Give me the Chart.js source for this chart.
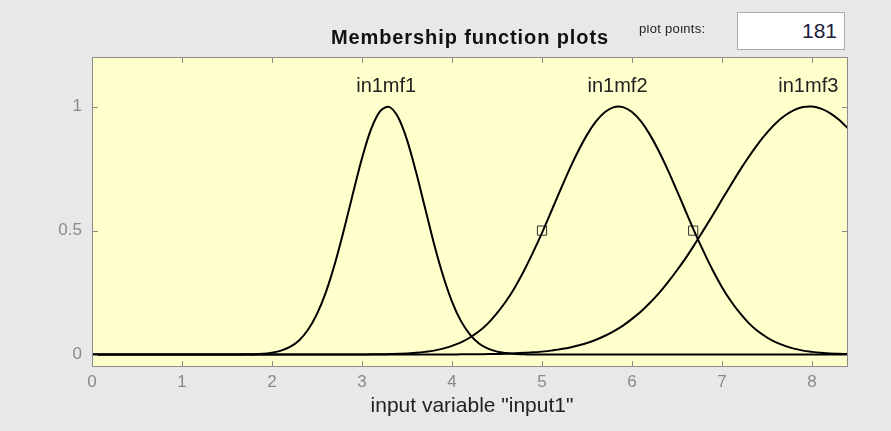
<!DOCTYPE html>
<html>
<head>
<meta charset="utf-8">
<script src="https://cdn.jsdelivr.net/npm/chart.js@4.4.1/dist/chart.umd.min.js"></script>
<style>
  html, body { margin: 0; padding: 0; }
  body { width: 891px; height: 431px; background: #e8e8e8; position: relative; overflow: hidden;
         font-family: "Liberation Sans", Arial, sans-serif; }
  #wrap { position: absolute; left: 0; top: 0; width: 891px; height: 431px; }
  .titulo { position: absolute; left: 0; width: 940px; top: 26px; text-align: center;
            font-weight: bold; font-size: 20px; letter-spacing: 0.9px; color: #111; }
  .ejeX { position: absolute; left: 0; width: 944px; top: 393px; text-align: center;
          font-size: 21px; color: #222; }
  .pp { position: absolute; left: 637px; top: 25px; width: 90px; height: 14px; overflow: hidden; }
  .pp span { position: absolute; left: 2px; top: -4px; font-size: 13px; letter-spacing: 0.3px; color: #222; white-space: nowrap; }
  .caja { position: absolute; left: 737px; top: 12px; width: 108px; height: 38px; background: #fff;
          border: 1px solid #ababab; box-sizing: border-box; text-align: right; padding-right: 7px;
          font-size: 21px; line-height: 36px; color: #1c1c3a; }
</style>
</head>
<body>
<div id="wrap"><canvas id="graficoMF" width="891" height="431"></canvas></div>
<div class="titulo">Membership function plots</div>
<div class="pp"><span>plot points:</span></div>
<div class="caja">181</div>
<div class="ejeX">input variable "input1"</div>
<script>
// datos
const xs = [0,0.1,0.2,0.3,0.4,0.5,0.6,0.7,0.8,0.9,1,1.1,1.2,1.3,1.4,1.5,1.6,1.7,1.8,1.9,
  2,2.1,2.2,2.3,2.4,2.5,2.6,2.7,2.8,2.9,3,3.1,3.2,3.3,3.4,3.5,3.6,3.7,3.8,3.9,
  4,4.1,4.2,4.3,4.4,4.5,4.6,4.7,4.8,4.9,5,5.1,5.2,5.3,5.4,5.5,5.6,5.7,5.8,5.9,
  6,6.1,6.2,6.3,6.4,6.5,6.6,6.7,6.8,6.9,7,7.1,7.2,7.3,7.4,7.5,7.6,7.7,7.8,7.9,
  8,8.1,8.2,8.3,8.4];

const mf1 = [0,0,0,0,0,0,0,0,0,0,0,0,0,0,0,0,0,0.001,0.001,0.003,
  0.008,0.016,0.031,0.057,0.100,0.164,0.253,0.368,0.504,0.651,0.792,0.908,0.981,0.999,0.958,0.866,0.737,0.592,0.447,0.319,
  0.214,0.135,0.081,0.045,0.024,0.012,0.006,0.002,0.001,0,0,0,0,0,0,0,0,0,0,0,
  0,0,0,0,0,0,0,0,0,0,0,0,0,0,0,0,0,0,0,0,
  0,0,0,0,0];

const mf2 = [0,0,0,0,0,0,0,0,0,0,0,0,0,0,0,0,0,0,0,0,
  0,0,0,0,0,0,0,0,0,0,0,0.001,0.001,0.002,0.003,0.004,0.007,0.011,0.016,0.024,
  0.035,0.049,0.069,0.094,0.126,0.167,0.215,0.272,0.338,0.412,0.491,0.575,0.660,0.743,0.819,0.886,0.940,0.978,0.998,0.998,
  0.978,0.940,0.886,0.819,0.743,0.660,0.575,0.491,0.412,0.338,0.272,0.215,0.167,0.126,0.094,0.069,0.049,0.035,0.024,0.016,
  0.011,0.007,0.004,0.003,0.002];

const mf3 = [0,0,0,0,0,0,0,0,0,0,0,0,0,0,0,0,0,0,0,0,
  0,0,0,0,0,0,0,0,0,0,0,0,0,0,0,0,0,0,0,0,
  0,0.001,0.001,0.001,0.002,0.002,0.003,0.005,0.007,0.009,0.012,0.016,0.022,0.028,0.037,0.047,0.060,0.076,0.095,0.117,
  0.144,0.174,0.209,0.248,0.292,0.340,0.391,0.447,0.505,0.564,0.625,0.685,0.744,0.799,0.850,0.895,0.934,0.964,0.986,0.998,
  1.000,0.992,0.974,0.947,0.912];

const mfNombres = ["in1mf1", "in1mf2", "in1mf3"];
const mfPicos = [3.28, 5.85, 7.97];
const marcasX = [5.0, 6.68];
const marcasY = [0.5, 0.5];
const ticksX = [0, 1, 2, 3, 4, 5, 6, 7, 8];
const ticksY = [0, 0.5, 1];

const FUENTE_TICKS = '"Liberation Sans", Arial';

const aPuntos = (ys) => xs.map((x, i) => ({ x: x, y: ys[i] }));

// --- fondo amarillo, marco y marcas internas ---
const marcoPlugin = {
  id: 'marco',
  beforeDraw(chart) {
    const { ctx, chartArea: a } = chart;
    ctx.save();
    ctx.fillStyle = '#ffffcc';
    ctx.fillRect(a.left, a.top, a.right - a.left, a.bottom - a.top);
    ctx.restore();
  },
  afterDraw(chart) {
    const { ctx, chartArea: a, scales } = chart;
    ctx.save();
    ctx.strokeStyle = '#8a8a8a';
    ctx.lineWidth = 1;
    ctx.strokeRect(a.left + 0.5, a.top + 0.5, a.right - a.left - 1, a.bottom - a.top - 1);
    ctx.beginPath();
    ticksX.forEach(v => {
      const px = Math.round(scales.x.getPixelForValue(v)) + 0.5;
      ctx.moveTo(px, a.bottom); ctx.lineTo(px, a.bottom - 6);
      ctx.moveTo(px, a.top); ctx.lineTo(px, a.top + 6);
    });
    ticksY.forEach(v => {
      const py = Math.round(scales.y.getPixelForValue(v)) + 0.5;
      ctx.moveTo(a.left, py); ctx.lineTo(a.left + 6, py);
      ctx.moveTo(a.right, py); ctx.lineTo(a.right - 6, py);
    });
    ctx.stroke();

    // etiquetas de las funciones
    ctx.fillStyle = '#222';
    ctx.font = '20px "Liberation Sans", Arial, sans-serif';
    ctx.textAlign = 'center';
    ctx.textBaseline = 'alphabetic';
    mfNombres.forEach((n, i) => {
      ctx.fillText(n, scales.x.getPixelForValue(mfPicos[i]) - 1, scales.y.getPixelForValue(1.06));
    });
    ctx.restore();
  }
};

const linea = (ys) => ({
  data: aPuntos(ys),
  borderColor: '#000',
  borderWidth: 2,
  pointRadius: 0,
  tension: 0.3,
  fill: false
});

new Chart(document.getElementById('graficoMF').getContext('2d'), {
  type: 'line',
  data: {
    datasets: [
      linea(mf1),
      linea(mf2),
      linea(mf3),
      {
        type: 'scatter',
        data: marcasX.map((x, i) => ({ x: x, y: marcasY[i] })),
        pointStyle: 'rect',
        pointRadius: 6.5,
        borderColor: '#333',
        borderWidth: 1,
        backgroundColor: 'rgba(0,0,0,0)',
        showLine: false
      }
    ]
  },
  options: {
    responsive: false,
    animation: false,
    layout: { padding: { left: 0, right: 43, top: 57, bottom: 0 } },
    plugins: { legend: { display: false }, tooltip: { enabled: false } },
    scales: {
      x: {
        type: 'linear', min: 0, max: 8.4,
        afterBuildTicks: s => { s.ticks = ticksX.map(v => ({ value: v })); },
        afterFit: s => { s.height = 64; },
        grid: { display: false },
        border: { display: false },
        ticks: { color: '#8a8a8a', padding: -3, font: { size: 17, family: FUENTE_TICKS } }
      },
      y: {
        type: 'linear', min: -0.05, max: 1.2,
        afterBuildTicks: s => { s.ticks = ticksY.map(v => ({ value: v })); },
        afterFit: s => { s.width = 92; },
        grid: { display: false },
        border: { display: false },
        ticks: {
          color: '#8a8a8a', padding: 2, font: { size: 17, family: FUENTE_TICKS },
          callback: v => String(v)
        }
      }
    }
  },
  plugins: [marcoPlugin]
});
</script>
</body>
</html>
